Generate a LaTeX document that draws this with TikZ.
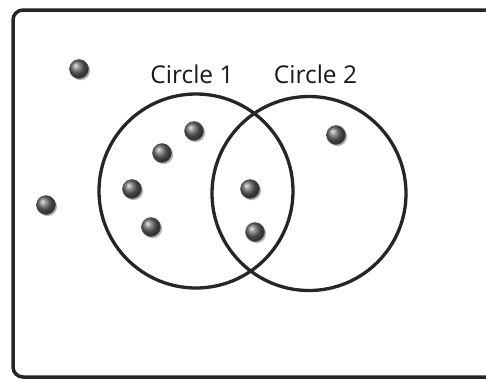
\documentclass[tikz,border=0pt]{standalone}
\usepackage{fontspec}
\setmainfont{Open Sans}
\usetikzlibrary{shadows}
\begin{document}
\begin{tikzpicture}[x=1pt,y=-1pt,
  frame/.style={draw=black!85, line width=3.5pt, rounded corners=10pt},
  setcircle/.style={circle, draw=black!85, line width=3.3pt, minimum size=194pt, inner sep=0pt},
  label/.style={anchor=base, font=\fontsize{24.5}{29}\selectfont, text=black!90, inner sep=0pt},
  ball/.style={circle, inner sep=0pt, minimum size=19pt, ball color=black!60, draw=black!65, line width=0.5pt,
    drop shadow={shadow xshift=1.6pt, shadow yshift=-1.6pt, fill=black!30, opacity=1}}]
\useasboundingbox (0,0) rectangle (486,381);
\clip (0,0) rectangle (486,381);
\fill[white] (0,0) rectangle (486,381);
\draw[frame] (13,10) rectangle (520,377);
\node[setcircle] (c1) at (196,191) {};
\node[setcircle] (c2) at (309,193.5) {};
\node[label] (l1) at (192,83) {Circle 1};
\node[label] (l2) at (315.5,83) {Circle 2};
\node[ball] (d1) at (79,69) {};
\node[ball] (d2) at (46,205) {};
\node[ball] (d3) at (194,131) {};
\node[ball] (d4) at (162,153) {};
\node[ball] (d5) at (132,189) {};
\node[ball] (d6) at (151,227) {};
\node[ball] (d7) at (336,135) {};
\node[ball] (d8) at (250,189) {};
\node[ball] (d9) at (255,232) {};
\end{tikzpicture}
\end{document}
